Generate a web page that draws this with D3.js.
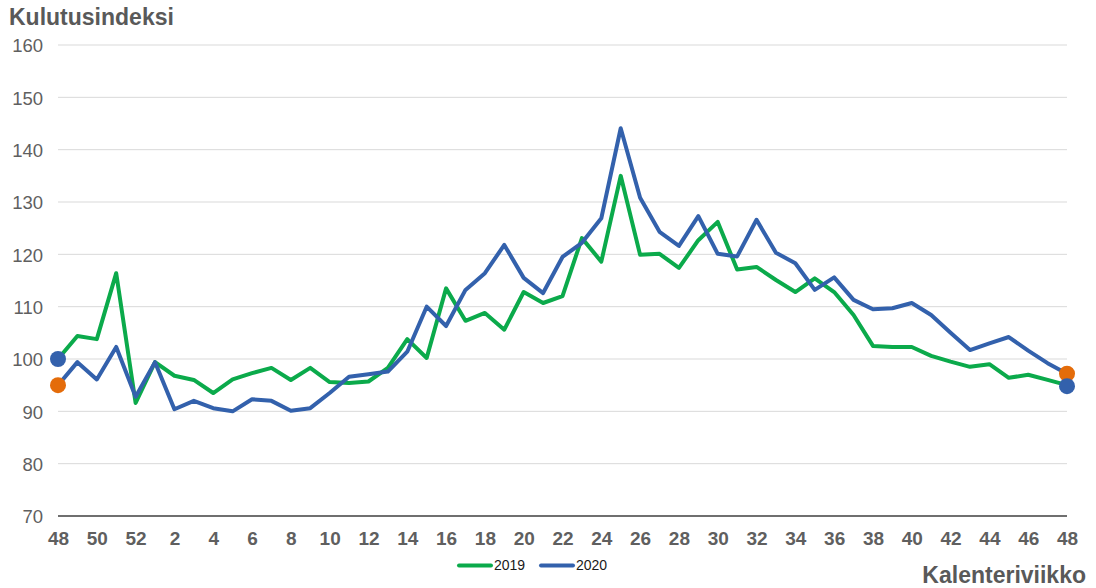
<!DOCTYPE html>
<html><head><meta charset="utf-8">
<script src="https://cdn.jsdelivr.net/npm/d3@7"></script>
<style>body{margin:0;background:#fff}svg{display:block;font-family:"Liberation Sans",Arial,sans-serif}</style>
</head><body><svg id="c" width="1096" height="588"></svg>
<script>
const weeks = [48,49,50,51,52,1,2,3,4,5,6,7,8,9,10,11,12,13,14,15,16,17,18,19,20,21,22,23,24,25,26,27,28,29,30,31,32,33,34,35,36,37,38,39,40,41,42,43,44,45,46,47,48];
const tickEvery = 2;
const yTicks = [70,80,90,100,110,120,130,140,150,160];
const series2019 = [100.0,104.4,103.8,116.4,91.6,99.4,96.8,96.0,93.5,96.1,97.3,98.3,96.0,98.3,95.6,95.4,95.7,98.3,103.8,100.2,113.5,107.3,108.8,105.6,112.8,110.7,112.0,123.1,118.6,135.0,119.9,120.1,117.4,122.7,126.2,117.1,117.6,115.1,112.8,115.4,112.8,108.4,102.5,102.3,102.3,100.6,99.5,98.5,99.0,96.4,97.0,96.0,95.0];
const series2020 = [95.0,99.4,96.1,102.3,92.8,99.4,90.4,92.0,90.6,90.0,92.3,92.0,90.1,90.6,93.5,96.6,97.1,97.6,101.4,110.0,106.3,113.2,116.4,121.8,115.5,112.6,119.5,122.2,126.9,144.1,130.8,124.3,121.6,127.3,120.1,119.6,126.6,120.3,118.3,113.2,115.6,111.3,109.5,109.7,110.7,108.4,105.0,101.7,103.0,104.2,101.6,99.2,97.2];
const seriesNames = ["2019","2020"];
const colors = ["#0BAA4B","#3361AC"];
const endMarkers = [ {i:0, v:100.0, c:"#3361AC"}, {i:0, v:95.0, c:"#E46C0A"}, {i:52, v:97.2, c:"#E46C0A"}, {i:52, v:94.8, c:"#3361AC"} ];

const svg = d3.select("#c");
const x = d3.scaleLinear().domain([0, weeks.length-1]).range([58, 1067]);
const y = d3.scaleLinear().domain([70,160]).range([516, 45]);

// gridlines
svg.append("g").selectAll("line").data(yTicks.filter(t=>t>70)).join("line")
  .attr("x1", x(0)).attr("x2", x(weeks.length-1))
  .attr("y1", d=>y(d)).attr("y2", d=>y(d))
  .attr("stroke","#d9d9d9").attr("stroke-width",1);
// axis line
svg.append("line").attr("x1",x(0)).attr("x2",x(weeks.length-1)).attr("y1",y(70)).attr("y2",y(70))
  .attr("stroke","#6f6f6f").attr("stroke-width",2);

// y tick labels
const yAxis = d3.axisLeft(y).tickValues(yTicks).tickSize(0).tickPadding(0);
const gy = svg.append("g").attr("transform","translate(43,0)").call(yAxis);
gy.select(".domain").remove();
gy.selectAll("text").attr("font-size",18.5).attr("fill","#5f5f5f").attr("font-family","Liberation Sans, Arial, sans-serif").attr("dy","0.36em");

// x tick labels
const xIdx = weeks.map((w,i)=>i).filter(i=>i%tickEvery===0);
const xAxis = d3.axisBottom(x).tickValues(xIdx).tickFormat(i=>weeks[i]).tickSize(0).tickPadding(0);
const gx = svg.append("g").attr("transform","translate(0,545)").call(xAxis);
gx.select(".domain").remove();
gx.selectAll("text").attr("font-size",19).attr("font-weight","bold").attr("fill","#5f5f5f").attr("font-family","Liberation Sans, Arial, sans-serif").attr("y",0).attr("dy",0);

// lines
const line = d3.line().x((d,i)=>x(i)).y(d=>y(d));
[series2019, series2020].forEach((s,k)=>{
  svg.append("path").datum(s).attr("d",line).attr("fill","none")
    .attr("stroke",colors[k]).attr("stroke-width",4).attr("stroke-linejoin","round").attr("stroke-linecap","round");
});

// end markers
svg.append("g").selectAll("circle").data(endMarkers).join("circle")
  .attr("cx",d=>x(d.i)).attr("cy",d=>y(d.v)).attr("r",8).attr("fill",d=>d.c);

// title
svg.append("text").attr("x",9).attr("y",25).text("Kulutusindeksi")
  .attr("font-size",23).attr("font-weight","bold").attr("fill","#595959");
svg.append("text").attr("x",1086).attr("y",583).attr("text-anchor","end").text("Kalenteriviikko")
  .attr("font-size",23).attr("font-weight","bold").attr("fill","#595959");

// legend
const leg = [{x:458, name:seriesNames[0], c:colors[0]},{x:540, name:seriesNames[1], c:colors[1]}];
const lg = svg.append("g");
leg.forEach(l=>{
  lg.append("line").attr("x1",l.x+1).attr("x2",l.x+33).attr("y1",565.5).attr("y2",565.5).attr("stroke",l.c).attr("stroke-width",4).attr("stroke-linecap","round");
  lg.append("text").attr("x",l.x+36).attr("y",570).text(l.name).attr("font-size",14).attr("fill","#1a1a1a");
});
</script></body></html>
